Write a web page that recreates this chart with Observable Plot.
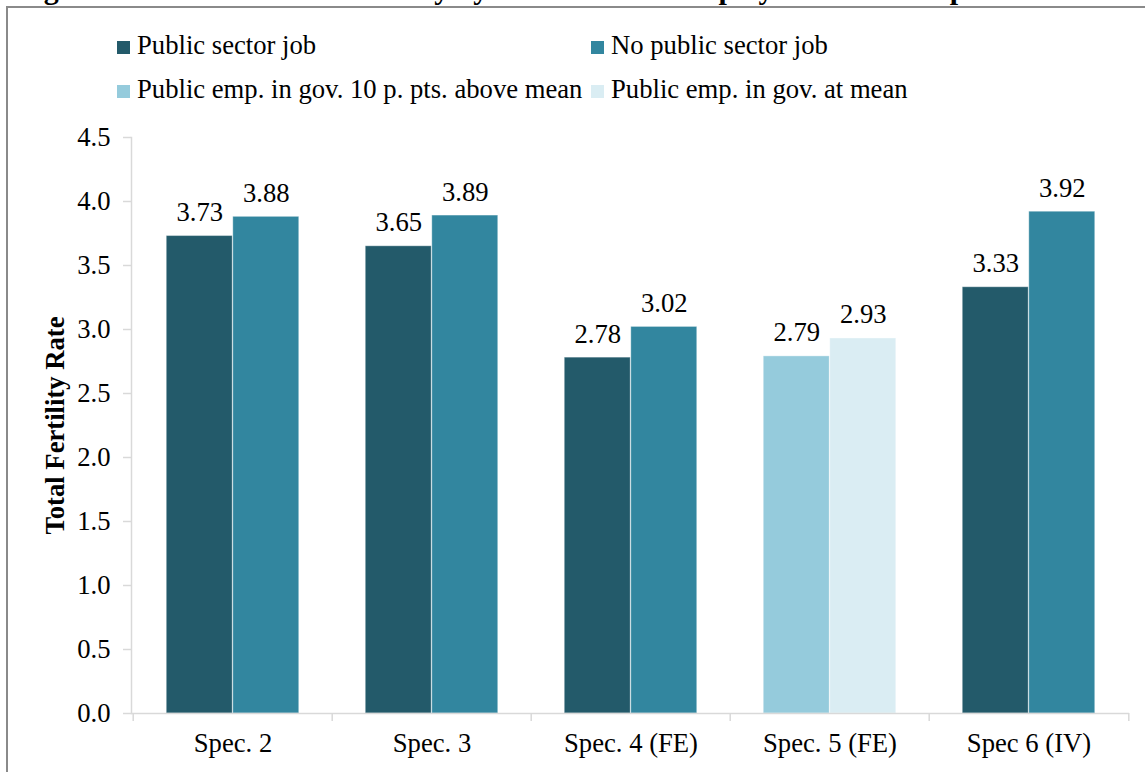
<!DOCTYPE html>
<html>
<head>
<meta charset="utf-8">
<script src="https://cdn.jsdelivr.net/npm/d3@7"></script>
<script src="https://cdn.jsdelivr.net/npm/@observablehq/plot@0.6"></script>
<style>
  html, body { margin: 0; padding: 0; background: #fff; overflow: hidden; }
  body { width: 1145px; height: 772px; position: relative; font-family: "Liberation Serif", "Times New Roman", Times, "DejaVu Serif", serif; }
  #title { position: absolute; left: 17px; top: -26px; font-size: 30px; line-height: 30px; font-weight: bold; white-space: nowrap; color: #000; }
  #box { position: absolute; left: 6px; top: 6px; width: 1200px; height: 900px; border-left: 2px solid #8a8a8a; border-top: 2px solid #8a8a8a; }
  #legend { position: absolute; left: 117px; top: 23px; font-size: 26.67px; color: #000; }
  .row { display: flex; height: 44px; line-height: 44px; }
  .item { white-space: nowrap; }
  .item.c1 { width: 474px; }
  .sw { display: inline-block; width: 13px; height: 13px; margin-right: 7px; vertical-align: 0px; }
  #chart { position: absolute; left: 0; top: 111px; }
</style>
</head>
<body>
<div id="title"></div>
<div id="box"></div>
<div id="legend"></div>
<div id="chart"></div>
<script>
const titleText = "Figure 5: Predicted Total Fertility by Public Sector Employment across Specifications";
const specs = ["Spec. 2", "Spec. 3", "Spec. 4 (FE)", "Spec. 5 (FE)", "Spec 6 (IV)"];
const seriesNames = ["Public sector job", "No public sector job", "Public emp. in gov. 10 p. pts. above mean", "Public emp. in gov. at mean"];
const seriesColors = ["#235a6a", "#32869f", "#95cbdc", "#daedf3"];
const firstSeries = ["Public sector job", "Public sector job", "Public sector job", "Public emp. in gov. 10 p. pts. above mean", "Public sector job"];
const secondSeries = ["No public sector job", "No public sector job", "No public sector job", "Public emp. in gov. at mean", "No public sector job"];
const firstValues = [3.73, 3.65, 2.78, 2.79, 3.33];
const secondValues = [3.88, 3.89, 3.02, 2.93, 3.92];
const yTicks = [0, 0.5, 1, 1.5, 2, 2.5, 3, 3.5, 4, 4.5];
const yLabel = "Total Fertility Rate";

document.getElementById("title").textContent = titleText;

// legend
const legend = document.getElementById("legend");
for (let r = 0; r < 2; r++) {
  const row = document.createElement("div");
  row.className = "row";
  for (let c = 0; c < 2; c++) {
    const i = r * 2 + c;
    const it = document.createElement("div");
    it.className = "item" + (c === 0 ? " c1" : "");
    const sw = document.createElement("span");
    sw.className = "sw";
    sw.style.background = seriesColors[i];
    it.appendChild(sw);
    it.appendChild(document.createTextNode(seriesNames[i]));
    row.appendChild(it);
  }
  legend.appendChild(row);
}

const rows1 = specs.map((s, i) => ({spec: s, series: firstSeries[i], value: firstValues[i]}));
const rows2 = specs.map((s, i) => ({spec: s, series: secondSeries[i], value: secondValues[i]}));

const W = 1145, mL = 131, mR = 16;
const step = (W - mL - mR) / specs.length;
const axisGray = "#d9d9d9";
const serif = "'Liberation Serif', 'Times New Roman', Times, 'DejaVu Serif', serif";

const chart = Plot.plot({
  width: W,
  height: 661,
  marginTop: 26,
  marginBottom: 59,
  marginLeft: mL,
  marginRight: mR,
  style: {fontFamily: serif, fontSize: "26.67px", color: "black", background: "transparent", overflow: "visible"},
  x: {domain: specs, padding: 0},
  y: {domain: [0, 4.5]},
  color: {domain: seriesNames, range: seriesColors},
  marks: [
    Plot.axisY({ticks: yTicks, tickFormat: d3.format(".1f"), tickSize: 8, tickPadding: 13, stroke: axisGray, strokeWidth: 1.5, label: null, fill: "black", fontFamily: serif}),
    Plot.frame({anchor: "left", stroke: axisGray, strokeWidth: 1.5}),
    Plot.barY(rows1, {x: "spec", y: "value", fill: "series", insetLeft: step / 6, insetRight: step / 2, stroke: "#ffffff", strokeOpacity: 0.35, strokeWidth: 1}),
    Plot.barY(rows2, {x: "spec", y: "value", fill: "series", insetLeft: step / 2, insetRight: step / 6, stroke: "#ffffff", strokeOpacity: 0.35, strokeWidth: 1}),
    Plot.ruleY([0], {stroke: axisGray, strokeWidth: 1.5}),
    Plot.axisX({tickSize: 8, tickFormat: () => "", dx: -step / 2, stroke: axisGray, strokeWidth: 1.5, label: null}),
    Plot.axisX([specs[specs.length - 1]], {tickSize: 8, tickFormat: () => "", dx: step / 2, stroke: axisGray, strokeWidth: 1.5, label: null}),
    Plot.axisX({tickSize: 0, tickPadding: 20, label: null, fill: "black", fontFamily: serif}),
    Plot.text(rows1, {x: "spec", y: "value", text: d => d.value.toFixed(2), dx: -step / 6, dy: -15, lineAnchor: "bottom", fill: "black", fontFamily: serif}),
    Plot.text(rows2, {x: "spec", y: "value", text: d => d.value.toFixed(2), dx: step / 6, dy: -15, lineAnchor: "bottom", fill: "black", fontFamily: serif}),
    Plot.text([yLabel], {frameAnchor: "left", textAnchor: "middle", dx: -76, rotate: -90, fontWeight: "bold", fill: "black", fontFamily: serif})
  ]
});
document.getElementById("chart").appendChild(chart);
</script>
</body>
</html>
